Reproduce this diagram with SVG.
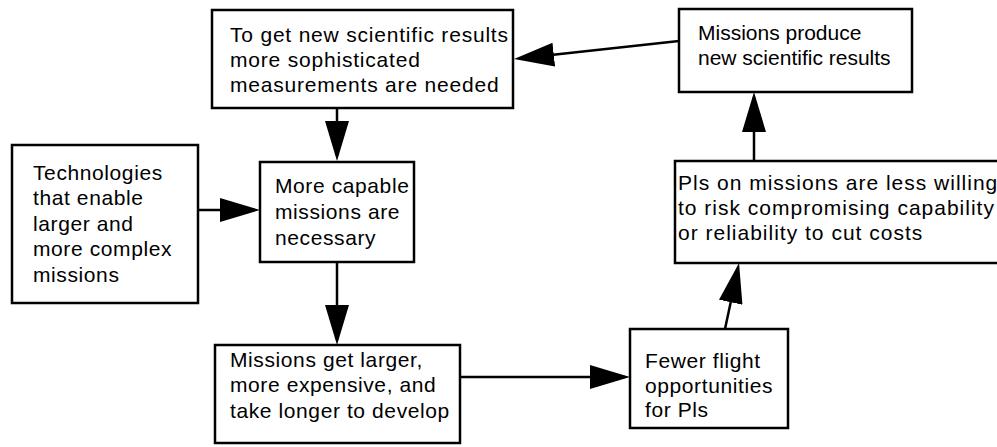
<svg xmlns="http://www.w3.org/2000/svg" width="997" height="447" viewBox="0 0 997 447">
<style>
.box{fill:#fff;stroke:#000;stroke-width:2.5}
.t{font-family:"Liberation Sans",Arial,sans-serif;font-size:21px;fill:#000;letter-spacing:0.6px}
.t0{letter-spacing:0}
.tw{letter-spacing:0.8px}
.tx{letter-spacing:1px}
.c{stroke:#000;stroke-width:2.5;fill:none;marker-end:url(#ah)}
</style>
<defs>
<marker id="ah" viewBox="0 0 40 24" refX="35" refY="12" markerWidth="40" markerHeight="24" markerUnits="userSpaceOnUse" orient="auto">
<path d="M0,0 L40,12 L0,24 Z" fill="#000"/>
</marker>
</defs>
<rect width="997" height="447" fill="#fff"/>
<g id="connectors">
<line class="c" x1="679" y1="41" x2="519" y2="58.5"/>
<line class="c" x1="337" y1="108" x2="337" y2="156"/>
<line class="c" x1="198" y1="210" x2="255" y2="210"/>
<line class="c" x1="337" y1="262" x2="337" y2="340"/>
<line class="c" x1="460" y1="377" x2="625" y2="377"/>
<line class="c" x1="725" y1="329" x2="738" y2="268"/>
<line class="c" x1="754" y1="161" x2="754" y2="97"/>
</g>
<g id="n1">
<rect class="box" x="212" y="10" width="301" height="98"/>
<text class="t tw"><tspan x="230" y="42">To get new scientific results</tspan><tspan x="230" y="67">more sophisticated</tspan><tspan x="230" y="92">measurements are needed</tspan></text>
</g>
<g id="n2">
<rect class="box" x="679" y="9" width="233" height="83"/>
<text class="t t0"><tspan x="698" y="40">Missions produce</tspan><tspan x="698" y="65">new scientific results</tspan></text>
</g>
<g id="n3">
<rect class="box" x="12" y="145" width="186" height="158"/>
<text class="t"><tspan x="33" y="180">Technologies</tspan><tspan x="33" y="205">that enable</tspan><tspan x="33" y="231">larger and</tspan><tspan x="33" y="256">more complex</tspan><tspan x="33" y="282">missions</tspan></text>
</g>
<g id="n4">
<rect class="box" x="260" y="162" width="154" height="100"/>
<text class="t"><tspan x="275" y="193">More capable</tspan><tspan x="275" y="219">missions are</tspan><tspan x="275" y="245">necessary</tspan></text>
</g>
<g id="n5">
<rect class="box" x="675" y="161" width="400" height="102"/>
<text class="t tx"><tspan x="678" y="190">Pls on missions are less willing</tspan><tspan x="678" y="215">to risk compromising capability</tspan><tspan x="678" y="240">or reliability to cut costs</tspan></text>
</g>
<g id="n6">
<rect class="box" x="215" y="345" width="245" height="98"/>
<text class="t"><tspan x="230" y="367">Missions get larger,</tspan><tspan x="230" y="392">more expensive, and</tspan><tspan x="230" y="418">take longer to develop</tspan></text>
</g>
<g id="n7">
<rect class="box" x="630" y="329" width="158" height="99"/>
<text class="t"><tspan x="645" y="368">Fewer flight</tspan><tspan x="645" y="393">opportunities</tspan><tspan x="645" y="417">for Pls</tspan></text>
</g>
</svg>
